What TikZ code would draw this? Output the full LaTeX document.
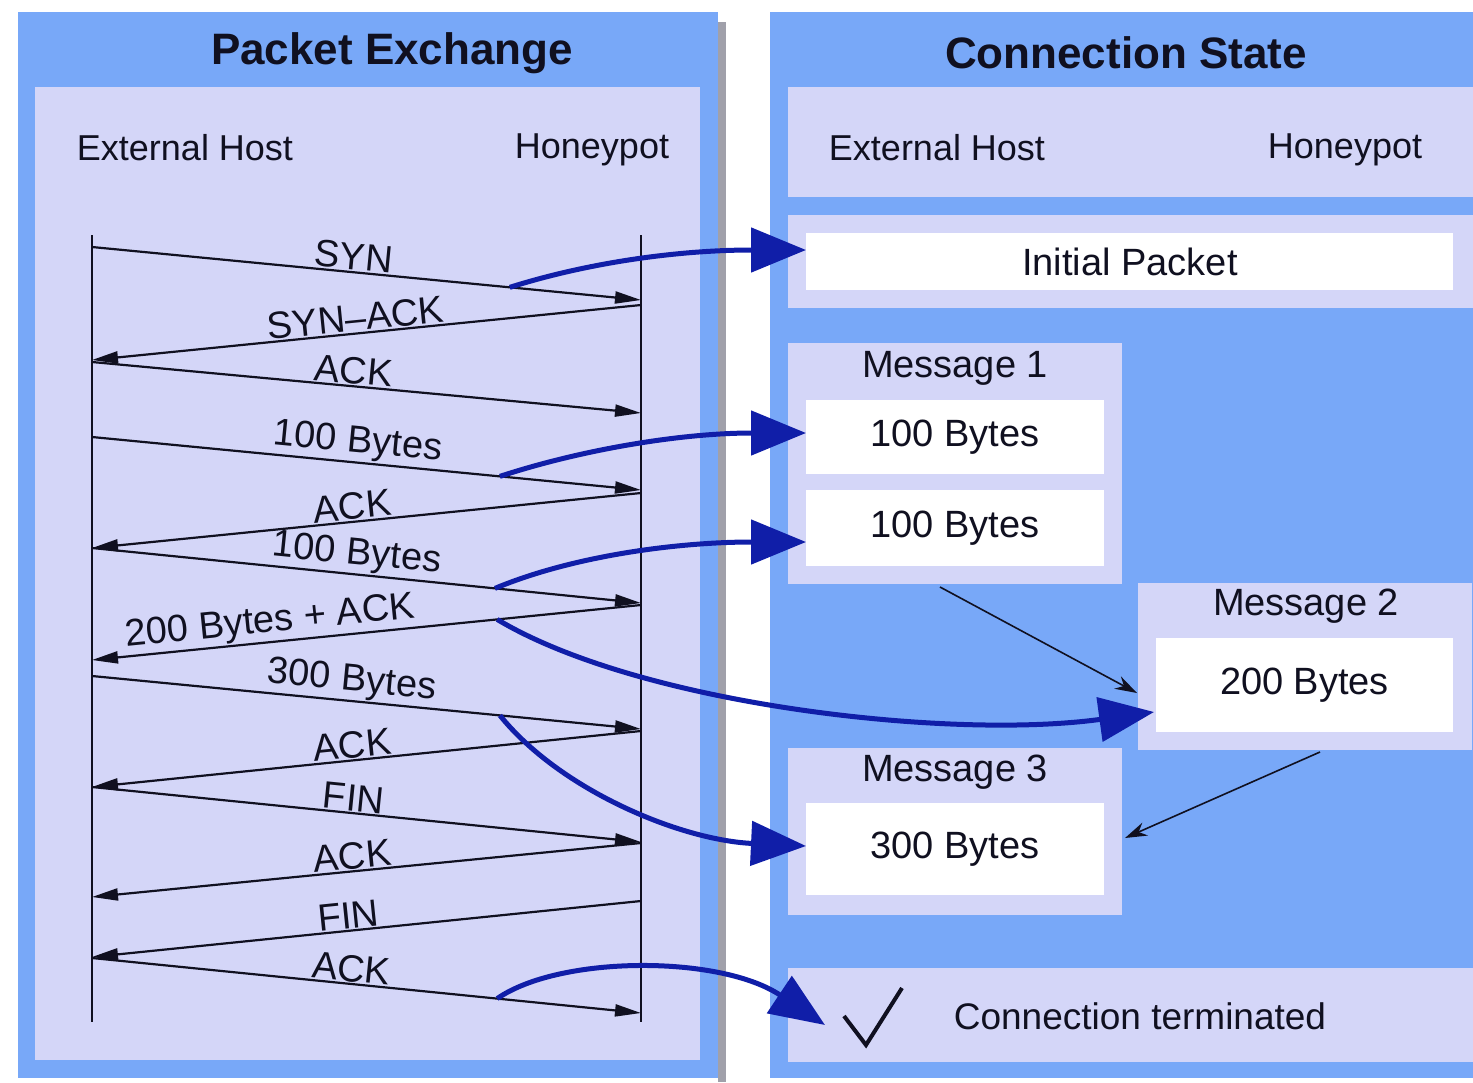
\documentclass[tikz,border=0pt]{standalone}
\usepackage{fontspec}
\setmainfont{Liberation Sans}
\usetikzlibrary{arrows.meta,calc}
\definecolor{outerblue}{RGB}{120,168,248}
\definecolor{lav}{RGB}{212,214,248}
\definecolor{arrblue}{RGB}{16,30,168}
\definecolor{ink}{RGB}{16,16,32}
\definecolor{shadowgray}{RGB}{160,160,170}
\begin{document}
\begin{tikzpicture}[x=1pt,y=-1pt,
  every node/.style={text=ink},
  panel/.style={fill=outerblue, inner sep=0pt, outer sep=0pt},
  lavbox/.style={fill=lav, inner sep=0pt, outer sep=0pt},
  whitebox/.style={fill=white, inner sep=0pt, outer sep=0pt},
  titletext/.style={font=\bfseries\fontsize{44}{48}\selectfont},
  headtext/.style={font=\fontsize{36}{40}\selectfont},
  boxtext/.style={font=\fontsize{38}{42}\selectfont},
  msg/.style={draw=ink, line width=2.2pt, -{Triangle[length=26pt,width=12pt]}},
  lbl/.style={sloped, anchor=south, inner sep=1pt, font=\fontsize{38}{40}\selectfont},
  bigarrow/.style={draw=arrblue, line width=5pt, -{Triangle[length=55pt,width=44pt]}},
  thinarrow/.style={draw=ink, line width=1.6pt, -{Stealth[length=22pt,width=14pt]}}]
\useasboundingbox (0,0) rectangle (1473,1082);
\fill[white] (0,0) rectangle (1473,1082);

% ---------- left panel ----------
\fill[shadowgray] (718,22) rectangle (726,1082);
\node[panel, minimum width=700pt, minimum height=1066pt] (lpanel) at (368,545) {};
\node[lavbox, minimum width=665pt, minimum height=973pt] (linner) at (367.5,573.5) {};
\node[titletext] (ltitle) at (392,53) {Packet Exchange};
\node[headtext] (lext) at (185,148) {External Host};
\node[headtext] (lhon) at (592,150) {Honeypot};

% lifelines
\coordinate (ltop) at (92,235);
\coordinate (lbot) at (92,1022);
\coordinate (rtop) at (641,235);
\coordinate (rbot) at (641,1022);
\draw[ink, line width=1.8pt] (ltop) -- (lbot);
\draw[ink, line width=1.8pt] (rtop) -- (rbot);

% message lines
\draw[msg] (92,247) -- node[lbl,pos=.474]{SYN} coordinate[pos=.761] (s1) (641,300);
\draw[msg] (641,305) -- node[lbl,pos=.517]{SYN--ACK} (92,360);
\draw[msg] (92,362) -- node[lbl,pos=.474]{ACK} (641,413);
\draw[msg] (92,437) -- node[lbl,pos=.481]{100 Bytes} coordinate[pos=.743] (s2) (641,490);
\draw[msg] (641,493) -- node[lbl,pos=.523]{ACK} (92,548);
\draw[msg] (92,548) -- node[lbl,pos=.479]{100 Bytes} coordinate[pos=.734] (s3) (641,603);
\draw[msg] (641,605) -- node[lbl,pos=.672]{200 Bytes + ACK} coordinate[pos=.262] (s4) (92,660);
\draw[msg] (92,676) -- node[lbl,pos=.47]{300 Bytes} coordinate[pos=.743] (s5) (641,729);
\draw[msg] (641,731) -- node[lbl,pos=.523]{ACK} (92,787);
\draw[msg] (92,787) -- node[lbl,pos=.474]{FIN} (641,842);
\draw[msg] (641,843) -- node[lbl,pos=.523]{ACK} (92,897);
\draw[msg] (641,901) -- node[lbl,pos=.53]{FIN} (92,957);
\draw[msg] (92,958) -- node[lbl,pos=.47]{ACK} coordinate[pos=.738] (s6) (641,1013);

% ---------- right panel ----------
\node[panel, minimum width=710pt, minimum height=1066pt] (rpanel) at (1125,545) {};
\node[titletext] (rtitle) at (1126,53) {Connection State};
\node[lavbox, minimum width=692pt, minimum height=110pt] (rhead) at (1134,142) {};
\node[headtext] (rext) at (937,148) {External Host};
\node[headtext] (rhon) at (1345,150) {Honeypot};

\node[lavbox, minimum width=692pt, minimum height=93pt] (initband) at (1134,261.5) {};
\node[whitebox, minimum width=647pt, minimum height=57pt] (initw) at (1129.5,261.5) {};
\node[boxtext] at (1130,262) {Initial Packet};

\node[lavbox, minimum width=334pt, minimum height=241pt] (m1) at (955,463.5) {};
\node[boxtext] at (955,368) {Message 1};
\node[whitebox, minimum width=298pt, minimum height=74pt, boxtext] (m1a) at (955,437) {100 Bytes};
\node[whitebox, minimum width=298pt, minimum height=76pt, boxtext] (m1b) at (955,528) {100 Bytes};

\node[lavbox, minimum width=334pt, minimum height=167pt] (m2) at (1305,666.5) {};
\node[boxtext] at (1306,606) {Message 2};
\node[whitebox, minimum width=297pt, minimum height=94pt, boxtext] (m2a) at (1304.5,685) {200 Bytes};

\node[lavbox, minimum width=334pt, minimum height=167pt] (m3) at (955,831.5) {};
\node[boxtext] at (955,772) {Message 3};
\node[whitebox, minimum width=298pt, minimum height=92pt, boxtext] (m3a) at (955,849) {300 Bytes};

\node[lavbox, minimum width=692pt, minimum height=94pt] (term) at (1134,1015) {};
\node[font=\fontsize{37}{40}\selectfont] (termtext) at (1140,1016) {Connection terminated};
\draw[ink, line width=4pt, line join=miter] (844,1016) -- (866,1045) -- (902,988);

% thin arrows between messages
\draw[thinarrow] ($(m1.south)+(-15,3)$) -- ($(m2.west)+(-1,26.5)$);
\draw[thinarrow] ($(m2.south)+(15,2)$) -- ($(m3.east)+(3,6.5)$);

% ---------- big blue arrows ----------
\draw[bigarrow] (s1) .. controls (590,262) and (680,250) .. ($(initw.west)+(0,-11.5)$);
\draw[bigarrow] (s2) .. controls (580,450) and (680,433) .. ($(m1a.west)+(0,-4)$);
\draw[bigarrow] (s3) .. controls (575,555) and (680,542) .. ($(m1b.west)+(0,14)$);
\draw[bigarrow] (s4) .. controls (640,705) and (950,740) .. ($(m2a.west)+(-2,27)$);
\draw[bigarrow] (s5) .. controls (560,790) and (680,840) .. ($(m3a.west)+(0,-3)$);
\draw[bigarrow] (s6) .. controls (560,955) and (720,955) .. ($(term.west)+(37,10)$);
\end{tikzpicture}
\end{document}
